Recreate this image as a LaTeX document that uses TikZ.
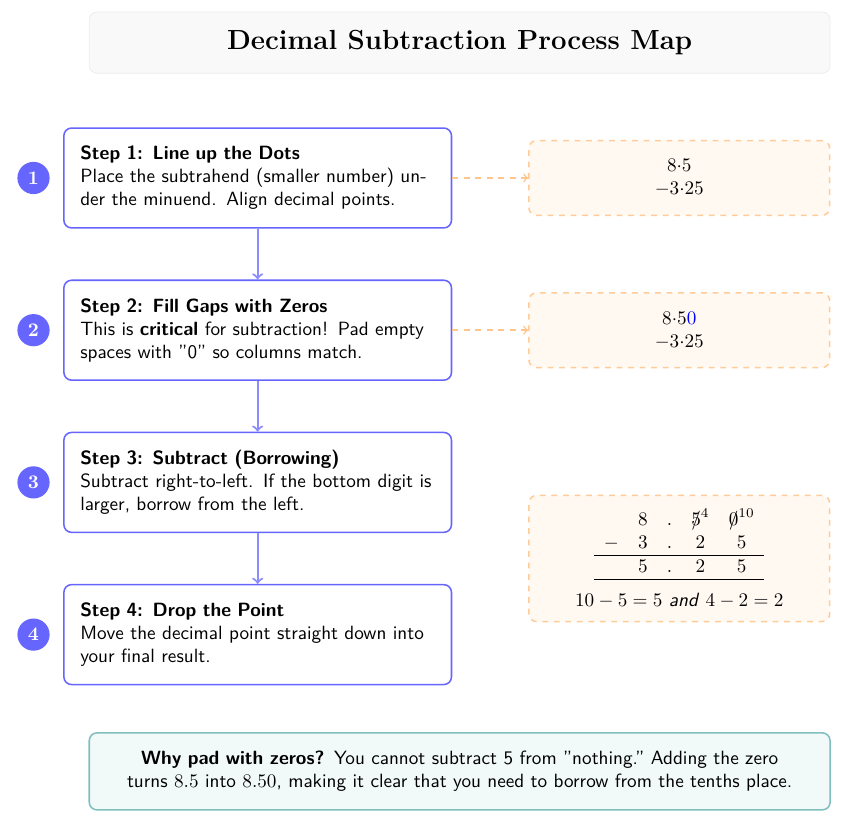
\documentclass[tikz,border=0pt]{standalone}
\usepackage{fontspec}
\usepackage{amsmath}
\usepackage{tikz}
\usetikzlibrary{arrows, calc, positioning, shapes}

\newcommand{\crossed}[1]{\mbox{\ooalign{$#1$\cr\hidewidth$/$\hidewidth\cr}}}

\begin{document}
\begin{tikzpicture}[node distance=0.93cm]

  \tikzstyle{banner} = [rectangle,rounded corners,draw = gray!15,fill = gray!5,minimum width = 13.57cm,minimum height = 1.12cm,font = \Large\bfseries];
  \tikzstyle{stepbox} = [rectangle,rounded corners,draw = blue!60,thick,fill = white,text width = 6.5cm,inner sep = 0.3cm,minimum height = 1.83cm,font = \sffamily];
  \tikzstyle{badge} = [circle,fill = blue!60,text = white,font = \bfseries,minimum size = 0.59cm,inner sep = 0pt];
  \tikzstyle{example} = [rectangle,rounded corners,draw = orange!40,thick,dashed,fill = orange!5,minimum width = 5.51cm,minimum height = 1.37cm,align = center];
  \tikzstyle{hint} = [rectangle,rounded corners,draw = teal!50,thick,fill = teal!5,minimum width = 13.57cm,minimum height = 1.41cm,text width = 12.2cm,align = center,font = \sffamily];
  \tikzstyle{flow} = [->,line width = 1.1pt,blue!45];
  \tikzstyle{link} = [->,thick,dashed,orange!45];

  \useasboundingbox (0,0) rectangle (15.68,-15.18);

  \node [banner] (title) at (8.42,-0.78) {Decimal Subtraction Process Map};

  \node [stepbox] (step1) at (4.72,-3.26)
    {\textbf{Step 1: Line up the Dots}\\ Place the subtrahend (smaller number) under the minuend. Align decimal points.};
  \node [stepbox,below=of step1] (step2)
    {\textbf{Step 2: Fill Gaps with Zeros}\\ This is \textbf{critical} for subtraction! Pad empty spaces with "0" so columns match.};
  \node [stepbox,below=of step2] (step3)
    {\textbf{Step 3: Subtract (Borrowing)}\\ Subtract right-to-left. If the bottom digit is larger, borrow from the left.};
  \node [stepbox,below=of step3] (step4)
    {\textbf{Step 4: Drop the Point}\\ Move the decimal point straight down into your final result.};

  \node [badge,left=0.24cm of step1] (num1) {1};
  \node [badge,left=0.24cm of step2] (num2) {2};
  \node [badge,left=0.24cm of step3] (num3) {3};
  \node [badge,left=0.24cm of step4] (num4) {4};

  \draw[flow] (step1.south) -- (step2.north);
  \draw[flow] (step2.south) -- (step3.north);
  \draw[flow] (step3.south) -- (step4.north);

  \node [example,right=1.39cm of step1] (ex1) {$8{\cdot}5$\\ $-3{\cdot}25$};
  \node [example,right=1.39cm of step2] (ex2) {$8{\cdot}5\textcolor{blue}{0}$\\ $-3{\cdot}25$};

  \coordinate (mid) at ($(step3.east)!0.5!(step4.east)$);
  \node [example,minimum height = 2.31cm,font = \sffamily,right=1.39cm of mid] (ex3)
    {$\begin{array}{ccccc}
        & 8 & . & \crossed{5}^{4} & \crossed{0}^{10}\\
      - & 3 & . & 2 & 5\\ \hline
        & 5 & . & 2 & 5\\ \hline
     \end{array}$\\[6pt]
     $10 - 5 = 5$ \textit{and} $4 - 2 = 2$};

  \draw[link] (step1.east) -- (ex1.west);
  \draw[link] (step2.east) -- (ex2.west);

  \node [hint] (note) at (8.42,-14.13)
    {\textbf{Why pad with zeros?} You cannot subtract 5 from "nothing." Adding the zero turns $8.5$ into $8.50$, making it clear that you need to borrow from the tenths place.};

\end{tikzpicture}
\end{document}
